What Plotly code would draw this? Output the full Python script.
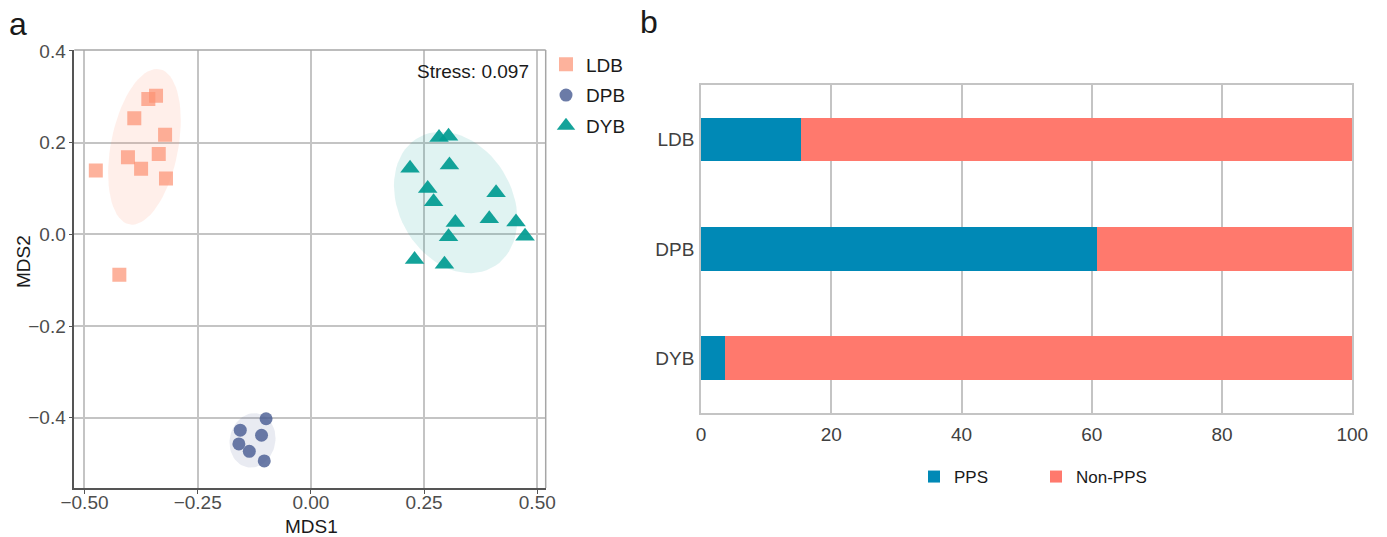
import numpy as np
import plotly.graph_objects as go

# ---------------- data ----------------
ldb_x = [-0.475, -0.359, -0.342, -0.390, -0.322, -0.404, -0.336, -0.375, -0.320, -0.423]
ldb_y = [0.139, 0.295, 0.302, 0.253, 0.217, 0.168, 0.175, 0.143, 0.122, -0.088]
dpb_x = [-0.099, -0.156, -0.109, -0.159, -0.136, -0.103]
dpb_y = [-0.402, -0.427, -0.438, -0.457, -0.473, -0.494]
dyb_x = [0.283, 0.304, 0.219, 0.306, 0.258, 0.271, 0.409, 0.319, 0.394, 0.453, 0.304, 0.473, 0.229, 0.295]
dyb_y = [0.211, 0.214, 0.144, 0.151, 0.100, 0.071, 0.091, 0.026, 0.034, 0.027, -0.005, -0.004, -0.055, -0.065]
stress_text = "Stress: 0.097"

bar_groups = ["LDB", "DPB", "DYB"]
pps = [15.3, 60.8, 3.7]
non_pps = [100 - v for v in pps]

W, H = 1387, 537
ELLIPSE_LEVEL = 0.8


def cov_trob(X, nu=5, maxit=25, tol=0.01):
    n, p = X.shape
    wt = np.ones(n)
    loc = X.mean(axis=0)
    w = np.sqrt(wt)
    Xc = X - loc
    for _ in range(maxit):
        w0 = w
        Xc = X - loc
        A = np.sqrt(w / w.sum())[:, None] * Xc
        _, d, Vt = np.linalg.svd(A, full_matrices=False)
        wX = Xc @ Vt.T @ np.diag(1.0 / d)
        Q = (wX ** 2).sum(axis=1)
        w = (wt * (nu + p)) / (nu + Q)
        loc = (w[:, None] * X).sum(axis=0) / w.sum()
        if np.all(np.abs(w - w0) < tol):
            break
    cov = (np.sqrt(w)[:, None] * Xc).T @ (np.sqrt(w)[:, None] * Xc) / wt.sum()
    return loc, cov


def ellipse(xs, ys, level=ELLIPSE_LEVEL, segments=72):
    X = np.column_stack([xs, ys])
    n = len(xs)
    center, shape = cov_trob(X)
    d2 = n - 1
    qf = d2 / 2.0 * ((1 - level) ** (-2.0 / d2) - 1)
    radius = np.sqrt(2 * qf)
    L = np.linalg.cholesky(shape)
    ang = np.linspace(0, 2 * np.pi, segments + 1)
    circ = np.column_stack([np.cos(ang), np.sin(ang)])
    e = center + radius * (circ @ L.T)
    return e[:, 0], e[:, 1]


groups = [
    ("LDB", ldb_x, ldb_y, "square", 14, "rgba(252,146,114,0.7)", "rgba(252,146,114,0.15)"),
    ("DPB", dpb_x, dpb_y, "circle", 13, "rgba(70,90,145,0.8)", "rgba(70,90,145,0.12)"),
    ("DYB", dyb_x, dyb_y, "triangle-up", 17, "rgba(0,155,145,0.92)", "rgba(0,155,145,0.12)"),
]

fig = go.Figure()
for name, xs, ys, sym, size, col, fillc in groups:
    ex, ey = ellipse(xs, ys)
    fig.add_trace(go.Scatter(x=ex, y=ey, mode="lines", fill="toself", fillcolor=fillc,
                             line=dict(width=0), hoverinfo="skip", showlegend=False,
                             xaxis="x", yaxis="y"))
for name, xs, ys, sym, size, col, fillc in groups:
    fig.add_trace(go.Scatter(x=xs, y=ys, mode="markers", name=name, legendgroup=name,
                             marker=dict(symbol=sym, size=size, color=col, line=dict(width=0)),
                             xaxis="x", yaxis="y", legend="legend"))

fig.add_trace(go.Bar(y=bar_groups, x=pps, orientation="h", name="PPS", marker=dict(color="#0089B6", line=dict(width=0)),
                     width=0.4, xaxis="x2", yaxis="y2", legend="legend2"))
fig.add_trace(go.Bar(y=bar_groups, x=non_pps, orientation="h", name="Non-PPS", marker=dict(color="#FF796D", line=dict(width=0)),
                     width=0.4, xaxis="x2", yaxis="y2", legend="legend2"))

FONT = "Arial, Liberation Sans, sans-serif"
grid = "#C4C4C4"
TITLE_C = "#1a1a1a"

fig.update_layout(
    width=W, height=H,
    margin=dict(l=0, r=0, t=0, b=0),
    paper_bgcolor="white", plot_bgcolor="white",
    font=dict(family=FONT, size=19, color="#4D4D4D"),
    barmode="stack",
    xaxis=dict(domain=[74.3 / W, 545.7 / W], range=[-0.5225, 0.5186], automargin=False,
               tickvals=[-0.5, -0.25, 0, 0.25, 0.5], tickformat=".2f",
               showgrid=True, gridcolor=grid, gridwidth=1.5, zeroline=False,
               showline=True, linecolor="#555555", linewidth=1.5,
               ticks="outside", ticklen=4, tickcolor="#555555", tickwidth=1.3,
               tickfont=dict(size=19, color="#4D4D4D"), ticklabelstandoff=-8,
               anchor="y"),
    yaxis=dict(domain=[1 - 488 / H, 1 - 50 / H], range=[-0.553, 0.402], automargin=False,
               tickvals=[-0.4, -0.2, 0, 0.2, 0.4], tickformat=".1f",
               showgrid=True, gridcolor=grid, gridwidth=1.5, zeroline=False,
               showline=True, linecolor="#555555", linewidth=1.5,
               ticks="outside", ticklen=4, tickcolor="#555555", tickwidth=1.3,
               tickfont=dict(size=19, color="#4D4D4D"), ticklabelstandoff=-1,
               anchor="x"),
    xaxis2=dict(domain=[701 / W, 1352.3 / W], range=[0, 100], dtick=20, automargin=False,
                showgrid=True, gridcolor=grid, gridwidth=1.5, zeroline=False,
                showline=True, linecolor=grid, linewidth=1.5, mirror=True,
                ticks="", tickfont=dict(size=19, color="#404040"), ticklabelstandoff=4,
                anchor="y2"),
    yaxis2=dict(domain=[1 - 412.7 / H, 1 - 85 / H], range=[-0.5, 2.5], automargin=False,
                categoryorder="array", categoryarray=bar_groups[::-1],
                showgrid=False, zeroline=False,
                showline=True, linecolor=grid, linewidth=1.5, mirror=True,
                ticks="", tickfont=dict(size=19, color="#404040"), ticklabelstandoff=1,
                anchor="x2"),
    legend=dict(x=546 / W, y=1 - 45.5 / H, xanchor="left", yanchor="top",
                font=dict(size=19, color=TITLE_C), bgcolor="rgba(0,0,0,0)",
                itemclick=False, tracegroupgap=3),
    legend2=dict(orientation="h", x=1036 / W, y=1 - 477 / H, xanchor="center", yanchor="middle",
                 traceorder="normal", entrywidth=77,
                 font=dict(size=17, color=TITLE_C), bgcolor="rgba(0,0,0,0)", itemclick=False),
    shapes=[
        dict(type="line", xref="x domain", yref="y domain", x0=0, x1=1, y0=1, y1=1,
             line=dict(color="#A6A6A6", width=1.5)),
        dict(type="line", xref="x domain", yref="y domain", x0=1, x1=1, y0=0, y1=1,
             line=dict(color="#A6A6A6", width=1.5)),
    ],
    annotations=[
        dict(text="MDS1", x=311 / W, y=1 - 526.5 / H, xref="paper", yref="paper",
             xanchor="center", yanchor="middle", showarrow=False,
             font=dict(size=19, color=TITLE_C)),
        dict(text="MDS2", x=23 / W, y=1 - 262 / H, xref="paper", yref="paper",
             xanchor="center", yanchor="middle", showarrow=False, textangle=-90,
             font=dict(size=19, color=TITLE_C)),
        dict(text=stress_text, x=530.7 / W, y=1 - 72 / H, xref="paper", yref="paper",
             xanchor="right", yanchor="middle", showarrow=False,
             font=dict(size=19, color=TITLE_C)),
        dict(text="a", x=18 / W, y=1 - 24 / H, xref="paper", yref="paper",
             xanchor="center", yanchor="middle", showarrow=False,
             font=dict(size=32, color=TITLE_C)),
        dict(text="b", x=649 / W, y=1 - 22 / H, xref="paper", yref="paper",
             xanchor="center", yanchor="middle", showarrow=False,
             font=dict(size=32, color=TITLE_C)),
    ],
)

fig.write_html("out.html", config={"displayModeBar": False},
               post_script="document.body.style.margin='0';document.body.style.overflow='hidden';")
